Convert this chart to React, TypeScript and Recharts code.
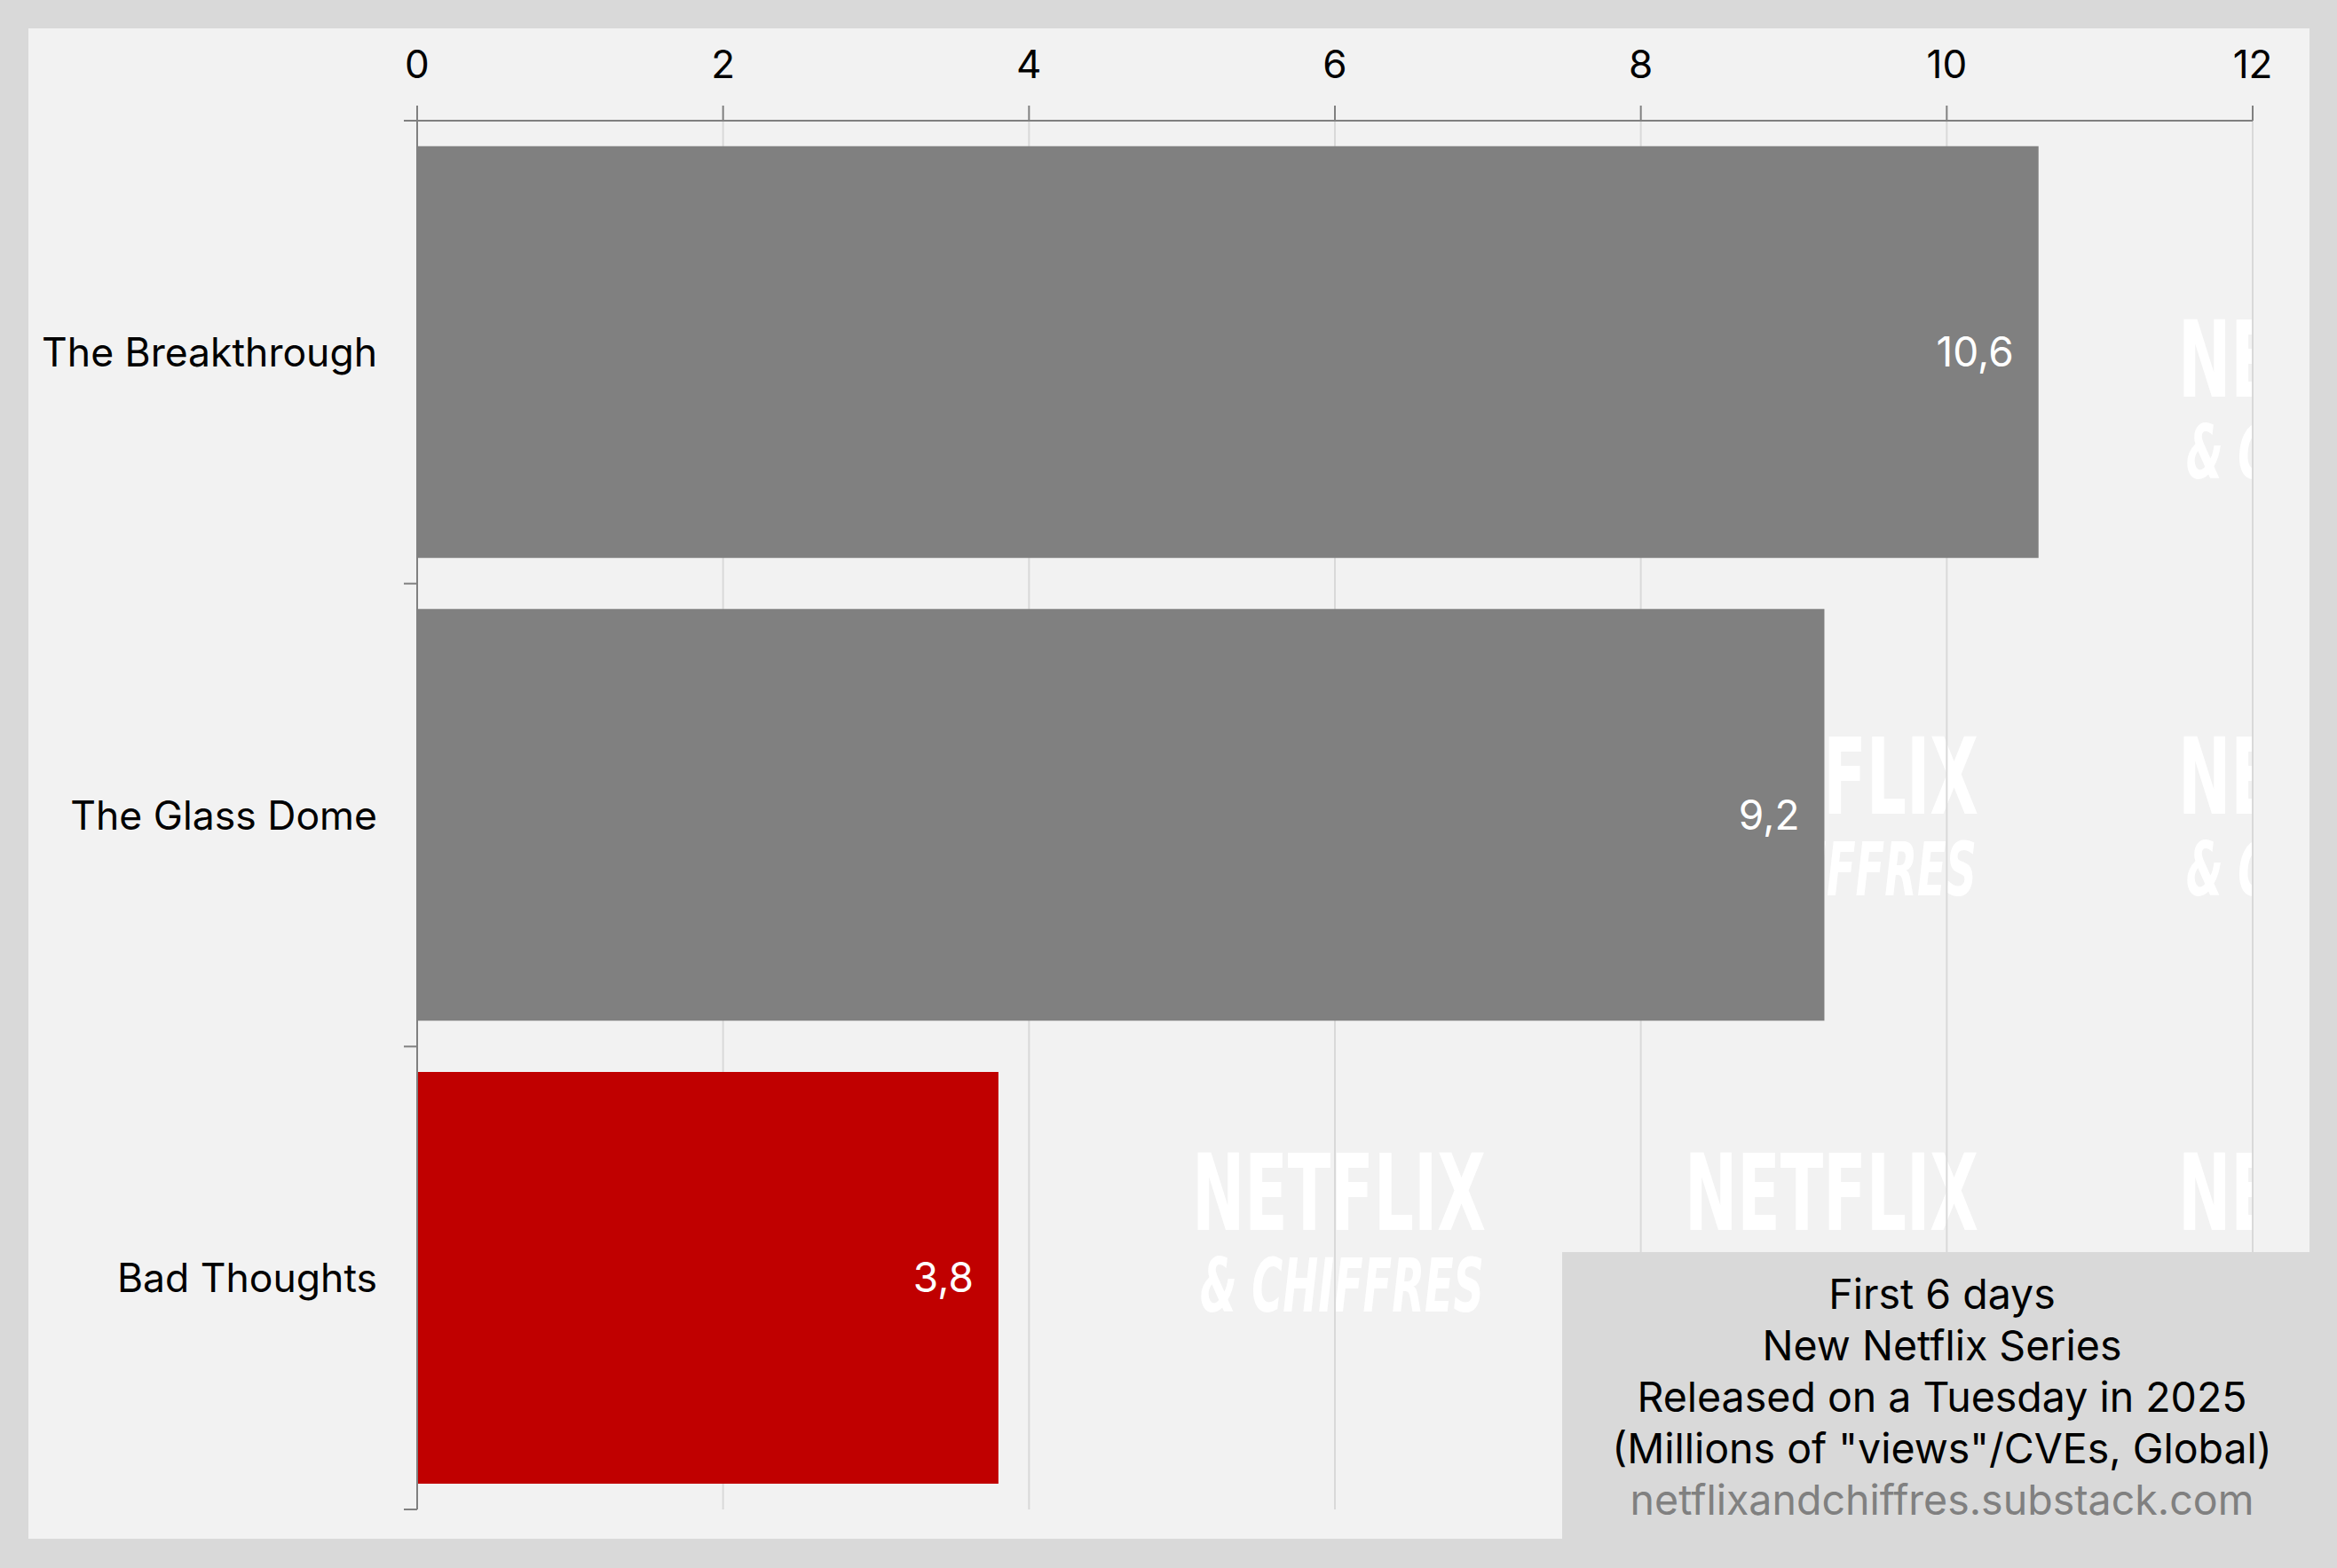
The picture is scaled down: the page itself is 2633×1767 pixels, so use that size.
import React from "react";
import { BarChart, Bar, XAxis, YAxis, CartesianGrid, Cell, LabelList } from "recharts";

const titles = ["The Breakthrough", "The Glass Dome", "Bad Thoughts"];
const views = [10.6, 9.2, 3.8];
const highlight = ["Bad Thoughts"];
const xTicks = [0, 2, 4, 6, 8, 10, 12];
const noteLines = [
  "First 6 days",
  "New Netflix Series",
  "Released on a Tuesday in 2025",
  '(Millions of "views"/CVEs, Global)',
];
const sourceLine = "netflixandchiffres.substack.com";

const data = titles.map((title, i) => ({ title, views: views[i] }));

// layout (panel coordinates)
const PANEL_W = 2570;
const PANEL_H = 1702;
const PLOT_LEFT = 438;
const PLOT_TOP = 104;
const MARGIN_RIGHT = 64;
const MARGIN_BOTTOM = 33;
const PLOT_W = PANEL_W - PLOT_LEFT - MARGIN_RIGHT;
const PLOT_H = PANEL_H - PLOT_TOP - MARGIN_BOTTOM;
const FONT = "Inter, 'Noto Sans', sans-serif";

// watermark centres, relative to the plot area
const markCols = [483, 1038, 1593, 2149];
const markRows = [267, 737, 1206];

const CategoryTick = (props: any) => {
  const { x, y, payload, index } = props;
  const band = PLOT_H / titles.length;
  const marks = [y - band / 2];
  if (index === titles.length - 1) marks.push(y + band / 2);
  return (
    <g>
      {marks.map((ly) => (
        <line key={ly} x1={PLOT_LEFT - 15} x2={PLOT_LEFT} y1={ly} y2={ly} stroke="#808080" strokeWidth={2} />
      ))}
      <text x={x} y={y} dy="0.36em" textAnchor="end" fontSize={44.5} fill="#000" fontFamily={FONT}>
        {payload.value}
      </text>
    </g>
  );
};

export default function App() {
  return (
    <div style={{ width: 2633, height: 1767, background: "#d9d9d9", position: "relative" }}>
      <style>{"body{margin:0}"}</style>
      <div
        style={{
          position: "absolute",
          left: 32,
          top: 32,
          width: PANEL_W,
          height: PANEL_H,
          background: "#f2f2f2",
        }}
      >
        <div
          style={{
            position: "absolute",
            left: PLOT_LEFT,
            top: PLOT_TOP,
            width: PLOT_W,
            height: PLOT_H,
            overflow: "hidden",
          }}
        >
          <svg width={PLOT_W} height={PLOT_H}>
            {markRows.map((cy) =>
              markCols.map((cx) => (
                <g key={`${cx}-${cy}`} fill="#ffffff">
                  <text
                    x={cx - 165}
                    y={cy + 44}
                    fontFamily="'DejaVu Sans Condensed', 'Liberation Sans Narrow', sans-serif"
                    fontWeight="bold"
                    fontSize={119}
                    textLength={331}
                    lengthAdjust="spacingAndGlyphs"
                  >
                    NETFLIX
                  </text>
                  <text
                    x={cx - 156}
                    y={cy + 136}
                    fontFamily="'DejaVu Sans Condensed', sans-serif"
                    fontWeight="bold"
                    fontStyle="italic"
                    fontSize={84}
                    textLength={320}
                    lengthAdjust="spacingAndGlyphs"
                  >
                    &amp; CHIFFRES
                  </text>
                </g>
              ))
            )}
          </svg>
        </div>

        <div style={{ position: "absolute", left: 0, top: 0 }}>
          <BarChart
            width={PANEL_W}
            height={PANEL_H}
            data={data}
            layout="vertical"
            margin={{ top: 0, right: MARGIN_RIGHT, bottom: MARGIN_BOTTOM, left: 0 }}
            barCategoryGap="5.5%"
            style={{ fontFamily: FONT }}
          >
            <CartesianGrid horizontal={false} stroke="#d9d9d9" strokeWidth={2} />
            <XAxis
              type="number"
              orientation="top"
              domain={[0, 12]}
              ticks={xTicks}
              interval={0}
              height={PLOT_TOP}
              tickSize={17}
              tickMargin={31}
              axisLine={{ stroke: "#808080", strokeWidth: 2 }}
              tickLine={{ stroke: "#808080", strokeWidth: 2 }}
              tick={{ fontSize: 44, fill: "#000", fontFamily: FONT }}
            />
            <YAxis
              type="category"
              dataKey="title"
              width={PLOT_LEFT}
              interval={0}
              tickSize={15}
              tickMargin={30}
              tickLine={false}
              axisLine={{ stroke: "#808080", strokeWidth: 2 }}
              tick={<CategoryTick />}
            />
            <Bar dataKey="views" isAnimationActive={false}>
              {data.map((d) => (
                <Cell key={d.title} fill={highlight.includes(d.title) ? "#c00000" : "#808080"} />
              ))}
              <LabelList
                dataKey="views"
                position="insideRight"
                offset={28}
                fill="#ffffff"
                fontSize={46}
                fontFamily={FONT}
                formatter={(v: any) => String(v).replace(".", ",")}
              />
            </Bar>
          </BarChart>
        </div>

        <div
          style={{
            position: "absolute",
            left: 1728,
            top: 1379,
            width: PANEL_W - 1728,
            height: PANEL_H - 1379,
            background: "#d9d9d9",
          }}
        >
          <svg width={PANEL_W - 1728} height={PANEL_H - 1379} style={{ display: "block" }}>
            {noteLines.map((line, i) => (
              <text key={line} x={428} y={64 + i * 58} textAnchor="middle" fontSize={46.5} fill="#000" fontFamily={FONT}>
                {line}
              </text>
            ))}
            <text x={428} y={64 + noteLines.length * 58} textAnchor="middle" fontSize={46.5} fill="#808080" fontFamily={FONT}>
              {sourceLine}
            </text>
          </svg>
        </div>
      </div>
    </div>
  );
}
